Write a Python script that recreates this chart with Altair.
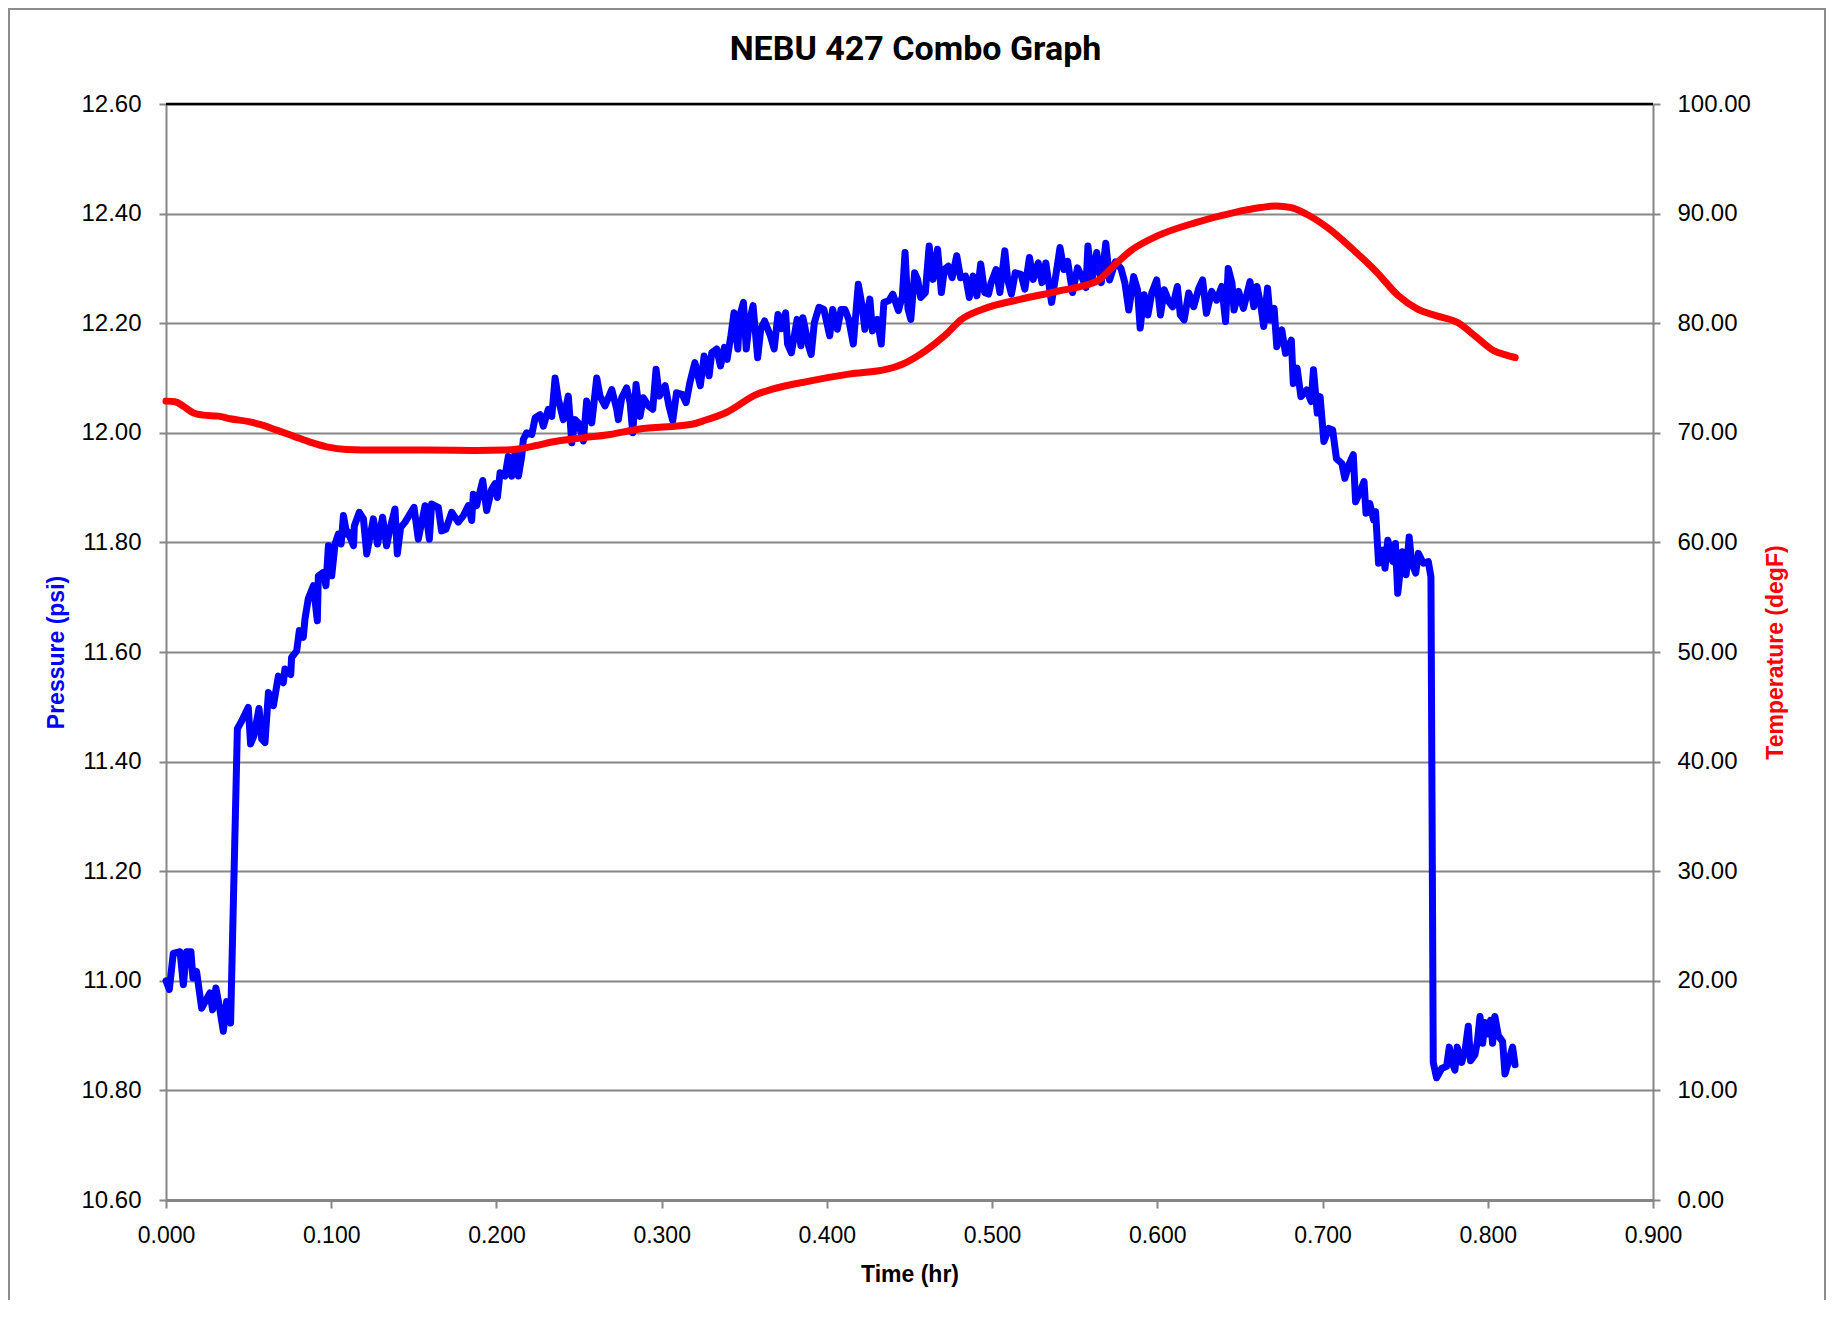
import altair as alt
import pandas as pd

# ---- Pressure series (psi) vs time (hr) ----
p_time = [
    0.0000, 0.0020, 0.0044, 0.0085, 0.0105, 0.0125, 0.0151, 0.0163, 0.0185, 0.0216,
    0.0266, 0.0282, 0.0302, 0.0323, 0.0347, 0.0367, 0.0391, 0.0432,
    0.0458, 0.0498, 0.0512, 0.0532, 0.0563, 0.0579, 0.0599, 0.0620, 0.0650, 0.0680,
    0.0710, 0.0720, 0.0755, 0.0760, 0.0791, 0.0807, 0.0831, 0.0841, 0.0861, 0.0892,
    0.0916, 0.0922, 0.0952, 0.0968, 0.0983, 0.1003, 0.1023, 0.1043, 0.1060, 0.1074,
    0.1094, 0.1100, 0.1135, 0.1140, 0.1170, 0.1195, 0.1215, 0.1255, 0.1280, 0.1311,
    0.1335, 0.1355, 0.1386, 0.1400, 0.1420, 0.1447, 0.1501, 0.1527, 0.1568, 0.1594,
    0.1608, 0.1648, 0.1668, 0.1694, 0.1729, 0.1769, 0.1800, 0.1830, 0.1850, 0.1860,
    0.1880, 0.1917, 0.1941, 0.1971, 0.1991, 0.2006,
    0.2022, 0.2052, 0.2072, 0.2093, 0.2113, 0.2133, 0.2153, 0.2163, 0.2183, 0.2214,
    0.2234, 0.2264, 0.2284, 0.2314, 0.2335, 0.2355, 0.2375, 0.2405, 0.2435, 0.2456,
    0.2476, 0.2496, 0.2526, 0.2546, 0.2577, 0.2607, 0.2627, 0.2657, 0.2698, 0.2728,
    0.2738, 0.2758, 0.2788, 0.2809, 0.2825, 0.2845, 0.2869, 0.2889, 0.2920, 0.2946,
    0.2966, 0.2986,
    0.3021, 0.3044, 0.3067, 0.3090, 0.3125, 0.3148, 0.3171, 0.3201, 0.3234, 0.3257,
    0.3287, 0.3303, 0.3333, 0.3356, 0.3380, 0.3396, 0.3419, 0.3438, 0.3461, 0.3472,
    0.3495, 0.3512, 0.3530, 0.3553, 0.3581, 0.3600, 0.3623, 0.3658, 0.3681, 0.3704,
    0.3727, 0.3750, 0.3762, 0.3785, 0.3820, 0.3843, 0.3855, 0.3889, 0.3905, 0.3924,
    0.3952, 0.3982, 0.4017, 0.4035, 0.4063, 0.4086, 0.4109, 0.4132, 0.4160, 0.4190,
    0.4213, 0.4230, 0.4260, 0.4276, 0.4306, 0.4329, 0.4345, 0.4375, 0.4399, 0.4433,
    0.4457, 0.4473, 0.4491, 0.4508, 0.4531, 0.4549, 0.4568, 0.4596, 0.4619, 0.4642,
    0.4670, 0.4693, 0.4711, 0.4735, 0.4758, 0.4786, 0.4809, 0.4839, 0.4862, 0.4885,
    0.4908, 0.4931, 0.4955, 0.4978, 0.4994, 0.5024, 0.5047, 0.5077, 0.5094, 0.5117,
    0.5140, 0.5175, 0.5198, 0.5226, 0.5249, 0.5279, 0.5302, 0.5325, 0.5360, 0.5388,
    0.5411, 0.5434, 0.5457, 0.5487, 0.5517, 0.5541, 0.5568, 0.5580, 0.5603, 0.5633,
    0.5661,
    0.5688, 0.5711, 0.5746, 0.5780, 0.5804, 0.5827, 0.5857, 0.5880, 0.5896, 0.5920,
    0.5943, 0.5966, 0.5996, 0.6019, 0.6042, 0.6070, 0.6093, 0.6121, 0.6139, 0.6162,
    0.6190, 0.6220, 0.6251, 0.6274, 0.6297, 0.6329, 0.6359, 0.6390, 0.6413, 0.6429,
    0.6452, 0.6464, 0.6492, 0.6521, 0.6561, 0.6584, 0.6603, 0.6626, 0.6644, 0.6667,
    0.6684, 0.6707, 0.6723, 0.6753, 0.6776, 0.6811, 0.6823, 0.6846, 0.6869, 0.6904,
    0.6931, 0.6945, 0.6968, 0.6985, 0.7008, 0.7038, 0.7061, 0.7084, 0.7117, 0.7135,
    0.7158, 0.7186, 0.7200, 0.7228, 0.7251, 0.7263, 0.7286, 0.7309, 0.7321, 0.7339,
    0.7367, 0.7378, 0.7395, 0.7425, 0.7441, 0.7455, 0.7483, 0.7506, 0.7524, 0.7540,
    0.7564, 0.7580, 0.7610, 0.7640, 0.7656,
    0.7670, 0.7690, 0.7721, 0.7751, 0.7767, 0.7781, 0.7801, 0.7815, 0.7842, 0.7862,
    0.7882, 0.7896, 0.7922, 0.7937, 0.7953, 0.7969, 0.7983, 0.8003, 0.8017, 0.8029,
    0.8043, 0.8064, 0.8090, 0.8104, 0.8124, 0.8150, 0.8165,
]
pressure = [
    11.000, 10.984, 11.050, 11.053, 10.993, 11.053, 11.053, 11.005, 11.017, 10.950,
    10.978, 10.947, 10.987, 10.953, 10.908, 10.962, 10.923, 11.460,
    11.474, 11.499, 11.432, 11.447, 11.497, 11.441, 11.435, 11.526, 11.502, 11.556,
    11.544, 11.569, 11.559, 11.590, 11.602, 11.639, 11.627, 11.660, 11.697, 11.721,
    11.657, 11.739, 11.745, 11.721, 11.794, 11.739, 11.797, 11.815, 11.797, 11.849,
    11.815, 11.820, 11.794, 11.830, 11.855, 11.843, 11.779, 11.843, 11.797, 11.846,
    11.794, 11.824, 11.861, 11.779, 11.827, 11.837, 11.864, 11.806, 11.867, 11.806,
    11.870, 11.864, 11.821, 11.824, 11.855, 11.837, 11.849, 11.867, 11.840, 11.888,
    11.867, 11.913, 11.858, 11.897, 11.907, 11.882,
    11.927, 11.921, 11.957, 11.921, 11.964, 11.921, 11.957, 11.988, 12.000, 11.997,
    12.027, 12.033, 12.012, 12.043, 12.030, 12.100, 12.061, 12.024, 12.067, 11.982,
    12.024, 12.018, 11.985, 12.058, 12.018, 12.100, 12.067, 12.049, 12.079, 12.043,
    12.024, 12.064, 12.082, 12.055, 12.000, 12.088, 12.030, 12.064, 12.049, 12.043,
    12.116, 12.067,
    12.086, 12.049, 12.022, 12.073, 12.070, 12.055, 12.092, 12.128, 12.086, 12.140,
    12.104, 12.146, 12.153, 12.122, 12.156, 12.134, 12.177, 12.219, 12.153, 12.213,
    12.238, 12.153, 12.201, 12.232, 12.137, 12.190, 12.204, 12.177, 12.153, 12.216,
    12.190, 12.219, 12.162, 12.146, 12.207, 12.159, 12.210, 12.159, 12.143, 12.201,
    12.229, 12.225, 12.177, 12.225, 12.189, 12.225, 12.225, 12.207, 12.162, 12.271,
    12.232, 12.189, 12.244, 12.186, 12.207, 12.162, 12.238, 12.241, 12.253, 12.223,
    12.250, 12.329, 12.226, 12.207, 12.292, 12.280, 12.247, 12.256, 12.341, 12.280,
    12.335, 12.256, 12.298, 12.304, 12.283, 12.323, 12.283, 12.286, 12.247, 12.286,
    12.250, 12.308, 12.256, 12.253, 12.274, 12.298, 12.256, 12.332, 12.280, 12.253,
    12.292, 12.289, 12.262, 12.320, 12.280, 12.310, 12.274, 12.310, 12.238, 12.292,
    12.338, 12.298, 12.313, 12.256, 12.301, 12.286, 12.265, 12.341, 12.277, 12.329,
    12.274,
    12.346, 12.279, 12.312, 12.300, 12.273, 12.224, 12.285, 12.261, 12.191, 12.252,
    12.215, 12.255, 12.279, 12.215, 12.261, 12.239, 12.230, 12.267, 12.215, 12.206,
    12.255, 12.230, 12.264, 12.279, 12.218, 12.258, 12.242, 12.267, 12.203, 12.300,
    12.273, 12.224, 12.258, 12.227, 12.276, 12.230, 12.267, 12.233, 12.194, 12.264,
    12.206, 12.227, 12.157, 12.188, 12.145, 12.169, 12.090, 12.118, 12.066, 12.078,
    12.057, 12.115, 12.036, 12.066, 11.984, 12.008, 12.005, 11.953, 11.944, 11.917,
    11.941, 11.960, 11.874, 11.893, 11.911, 11.853, 11.871, 11.841, 11.856, 11.762,
    11.786, 11.753, 11.804, 11.765, 11.798, 11.707, 11.783, 11.741, 11.810, 11.762,
    11.744, 11.780, 11.762, 11.765, 11.737,
    10.851, 10.823, 10.840, 10.844, 10.879, 10.854, 10.837, 10.879, 10.851, 10.872,
    10.917, 10.854, 10.865, 10.889, 10.935, 10.886, 10.924, 10.903, 10.928, 10.886,
    10.935, 10.900, 10.889, 10.830, 10.851, 10.879, 10.847,
]

# ---- Temperature series (degF) vs time (hr) ----
t_time = [
    0.0000, 0.0055, 0.0105, 0.0165, 0.0226, 0.0317, 0.0388, 0.0508, 0.0569, 0.0670,
    0.0771, 0.0872, 0.0973, 0.1093, 0.1275, 0.1578, 0.1880, 0.2042, 0.2142, 0.2243,
    0.2344, 0.2486, 0.2687, 0.2859, 0.3183, 0.3252, 0.3391, 0.3577, 0.3669, 0.3901,
    0.4132, 0.4364, 0.4457, 0.4596, 0.4711, 0.4816, 0.4943, 0.5175, 0.5406, 0.5638,
    0.5746, 0.5838, 0.6000, 0.6232, 0.6464, 0.6626, 0.6718, 0.6811, 0.6904, 0.7043,
    0.7182, 0.7321, 0.7460, 0.7575, 0.7691, 0.7818, 0.7923, 0.8038, 0.8108, 0.8166,
]
temperature = [
    72.89, 72.83, 72.43, 71.82, 71.61, 71.52, 71.28, 71.00, 70.76, 70.24,
    69.70, 69.15, 68.72, 68.48, 68.42, 68.42, 68.39, 68.42, 68.54, 68.84,
    69.18, 69.48, 69.85, 70.33, 70.78, 71.09, 71.85, 73.52, 73.98, 74.74,
    75.35, 75.80, 76.26, 77.48, 78.84, 80.36, 81.28, 82.19, 82.95, 83.86,
    85.38, 86.60, 87.96, 89.18, 90.09, 90.55, 90.70, 90.55, 89.94, 88.57,
    86.75, 84.77, 82.49, 81.28, 80.67, 80.06, 78.84, 77.48, 77.11, 76.87,
]

# ---- Axis ticks and texts ----
x_ticks = [0.0, 0.1, 0.2, 0.3, 0.4, 0.5, 0.6, 0.7, 0.8, 0.9]
p_ticks = [10.6, 10.8, 11.0, 11.2, 11.4, 11.6, 11.8, 12.0, 12.2, 12.4, 12.6]
t_ticks = [0, 10, 20, 30, 40, 50, 60, 70, 80, 90, 100]
title_text = ["NEBU 427 Combo Graph"]

W, H = 1487, 1096
GRAY = "#868686"
FONT = "Liberation Sans"

p_df = pd.DataFrame({"t": p_time, "p": pressure})
t_df = pd.DataFrame({"t": t_time, "T": temperature})
one = pd.DataFrame({"k": [0]})
title_df = pd.DataFrame({"label": title_text})

x_axis = alt.Axis(
    values=x_ticks, format=".3f", grid=False, labelFlush=False,
    domainColor=GRAY, domainWidth=3, tickColor=GRAY, tickWidth=2, tickSize=8,
    labelFont=FONT, labelFontSize=23, labelColor="black", labelPadding=16,
    title="Time (hr)", titleFont=FONT, titleFontSize=23, titleFontWeight="bold",
    titleColor="black", titlePadding=16,
)
x_enc = alt.X("t:Q", scale=alt.Scale(domain=[0, 0.9], nice=False, zero=False), axis=x_axis)

p_line = alt.Chart(p_df).mark_line(
    color="#0000FF", strokeWidth=7, strokeJoin="round", strokeCap="round"
).encode(
    x=x_enc,
    y=alt.Y(
        "p:Q",
        scale=alt.Scale(domain=[10.6, 12.6], nice=False, zero=False),
        axis=alt.Axis(
            values=p_ticks, format=".2f", grid=True, gridColor=GRAY, gridWidth=2,
            labelFlush=False, domainColor=GRAY, domainWidth=2, tickColor=GRAY,
            tickWidth=2, tickSize=7, labelFont=FONT, labelFontSize=24,
            labelColor="black", labelPadding=18, title="Pressure (psi)",
            titleFont=FONT, titleFontSize=23, titleFontWeight="bold",
            titleColor="#0000FF", titlePadding=12,
        ),
    ),
)

t_line = alt.Chart(t_df).mark_line(
    color="#FF0000", strokeWidth=7, interpolate="monotone", strokeCap="round"
).encode(
    x=x_enc,
    y=alt.Y(
        "T:Q",
        scale=alt.Scale(domain=[0, 100], nice=False, zero=False),
        axis=alt.Axis(
            orient="right", values=t_ticks, format=".2f", grid=False,
            labelFlush=False, domainColor=GRAY, domainWidth=2, tickColor=GRAY,
            tickWidth=2, tickSize=7, labelFont=FONT, labelFontSize=24,
            labelColor="black", labelPadding=17, title="Temperature (degF)",
            titleFont=FONT, titleFontSize=23, titleFontWeight="bold",
            titleColor="#FF0000", titlePadding=37, titleAngle=270,
        ),
    ),
)

top_rule = alt.Chart(one).mark_rule(color="black", strokeWidth=2.5).encode(
    x=alt.value(0), x2=alt.value(W), y=alt.value(0)
)

frame = alt.Chart(one).mark_rect(
    fillOpacity=0, stroke="#8c8c8c", strokeWidth=2
).encode(
    x=alt.value(-157), x2=alt.value(1659), y=alt.value(-95), y2=alt.value(1400)
)

title = alt.Chart(title_df).mark_text(
    font="Roboto", fontSize=34, fontWeight="bold", color="black",
    align="center", baseline="middle",
).encode(
    text="label:N", x=alt.value(W / 2 + 6), y=alt.value(-54)
)

chart = alt.layer(frame, title, p_line, top_rule, t_line).resolve_scale(
    y="independent"
).properties(
    width=W,
    height=H,
    autosize=alt.AutoSizeParams(type="none"),
    padding={"left": 158, "top": 96, "right": 173, "bottom": 100},
    background="white",
).configure_view(stroke=None)

chart.save("out.html", embed_options={"renderer": "svg", "actions": False})
